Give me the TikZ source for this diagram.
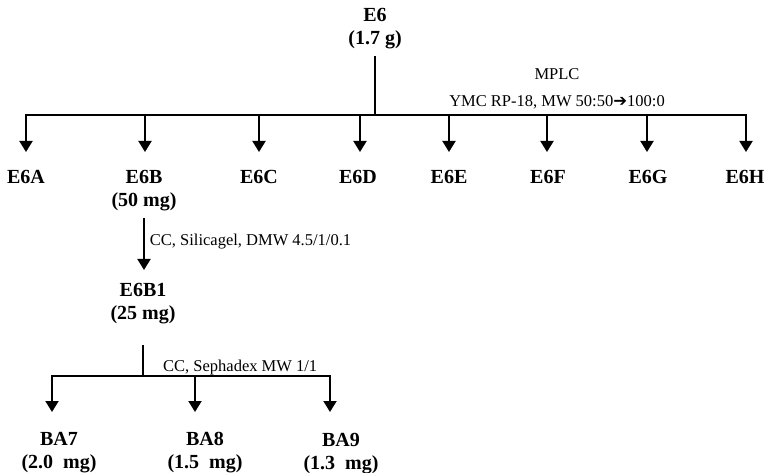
\documentclass[tikz,border=0pt]{standalone}
\usepackage{fontspec}
\setmainfont{Liberation Serif}
\newfontfamily\arrowfont{DejaVu Sans}
\usepackage{tikz}
\usetikzlibrary{positioning,calc,arrows.meta}
\tikzset{fr/.style={font=\fontsize{20}{23}\selectfont\bfseries, align=center, inner sep=0pt, anchor=north}}
\tikzset{cond/.style={font=\fontsize{16.5}{27}\selectfont, align=center, inner sep=0pt}}
\tikzset{ln/.style={draw, line width=1.9pt, line cap=rect}}
\tikzset{arr/.style={ln, -{Triangle[width=13pt,length=11pt]}}}

\begin{document}
\begin{tikzpicture}[x=1pt, y=-1pt]
\useasboundingbox (0,0) rectangle (769,473);
% crude extract and MPLC step
\node[fr] (E6) at (375,8) {E6\\(1.7 g)};
\coordinate (j0) at (375,115);
\draw[ln, shorten <=8pt] (E6) -- (j0);
\node[cond, anchor=north] (mplc) at (557,68) {MPLC\\YMC RP-18, MW 50:50{\arrowfont\char"2794}100:0};
%
\node[fr] (E6A) at (26,170) {E6A};
\node[fr] (E6B) at (144,170) {E6B\\(50 mg)};
\node[fr] (E6C) at (259,170) {E6C};
\node[fr] (E6D) at (358,170) {E6D};
\node[fr] (E6E) at (449,170) {E6E};
\node[fr] (E6F) at (548,170) {E6F};
\node[fr] (E6G) at (648,170) {E6G};
\node[fr] (E6H) at (745,170) {E6H};
\foreach \i/\x in {1/26,2/145,3/259,4/360,5/449,6/547,7/647,8/746}
    \coordinate (b\i) at (\x,115);
\draw[ln] (b1) -- (b8);
\foreach \i/\n in {1/E6A,2/E6B,3/E6C,4/E6D,5/E6E,6/E6F,7/E6G,8/E6H}
    \draw[arr, shorten >=18pt] (b\i) -- (b\i |- \n.north);
% silica gel column
\node[fr] (E6B1) at (143,283) {E6B1\\(25 mg)};
\draw[arr, shorten <=8pt, shorten >=13pt] (E6B) -- (E6B |- E6B1.north)
    node[cond, anchor=west, pos=0.43, xshift=5pt] {CC, Silicagel, DMW 4.5/1/0.1};
% sephadex column
\coordinate (j1) at (143,376);
\draw[ln, shorten <=22pt] (E6B1) -- (j1);
\coordinate (c1) at (52,376);
\coordinate (c2) at (195,376);
\coordinate (c3) at (330,376);
\draw[ln] (c1) -- (c3);
\node[cond, anchor=base west] (seph) at ($(j1)+(20,-5)$) {CC, Sephadex MW 1/1};
\node[fr] (BA7) at (59,432) {BA7\\(2.0\ \ mg)};
\node[fr] (BA8) at (205,432) {BA8\\(1.5\ \ mg)};
\node[fr] (BA9) at (341,433) {BA9\\(1.3\ \ mg)};
\draw[arr, shorten >=20pt] (c1) -- (c1 |- BA7.north);
\draw[arr, shorten >=20pt] (c2) -- (c2 |- BA8.north);
\draw[arr, shorten >=21pt] (c3) -- (c3 |- BA9.north);
\end{tikzpicture}
\end{document}
